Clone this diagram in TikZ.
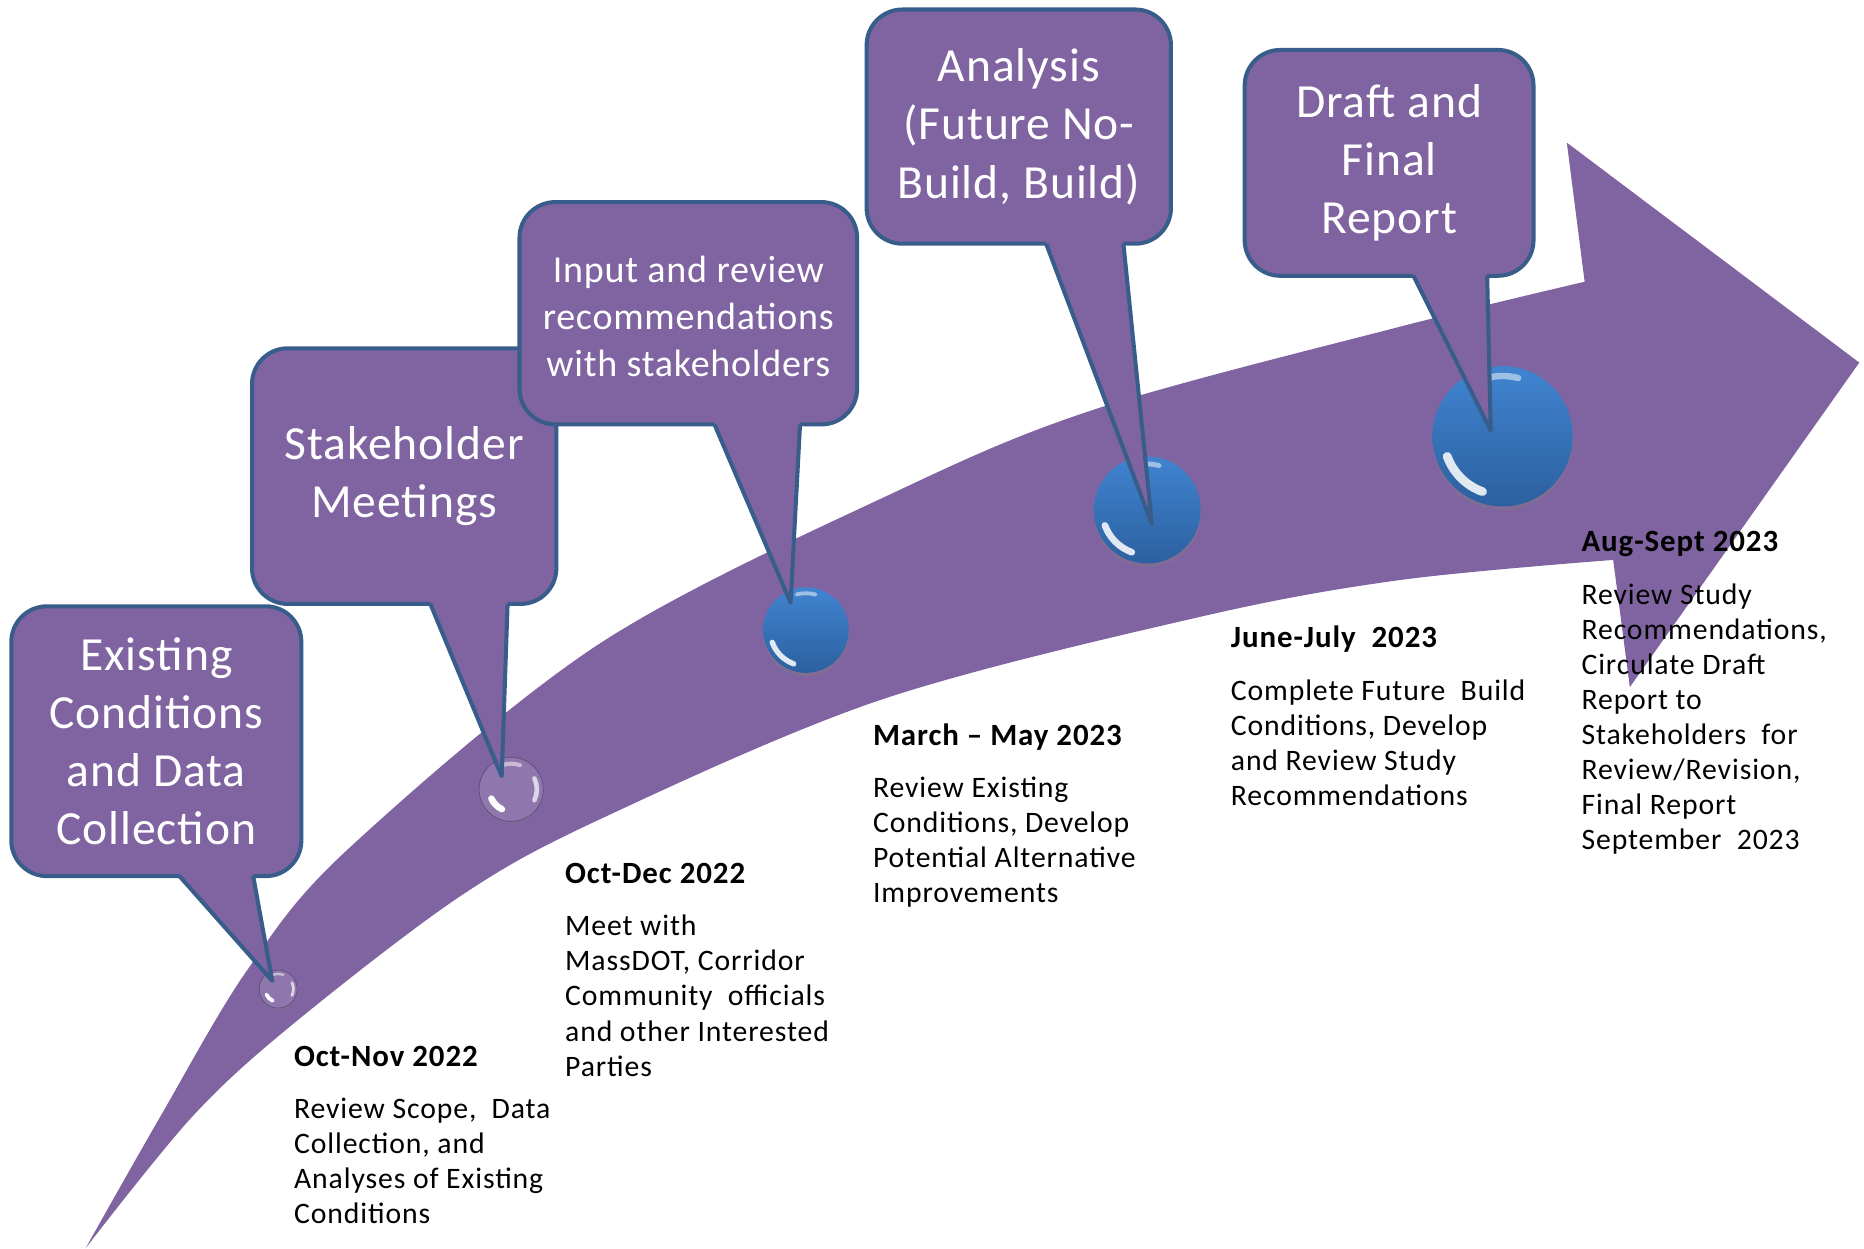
\documentclass[tikz,border=0pt]{standalone}
\usepackage{fontspec}
\setmainfont{Carlito}
\newfontfamily\calfont[LetterSpace=2]{Carlito}
\newfontfamily\txtfont[LetterSpace=3]{Carlito}
\usetikzlibrary{positioning,shadows}

\definecolor{bandpurple}{RGB}{128,100,162}
\definecolor{calline}{RGB}{56,93,138}
\definecolor{balltop}{RGB}{64,132,208}
\definecolor{ballbot}{RGB}{44,96,160}

\begin{document}
\begin{tikzpicture}[x=0.5pt,y=-0.5pt,
callout/.style={draw=calline,fill=bandpurple,line width=1.7pt,rounded corners=15pt,
  outer sep=0pt,inner sep=0pt,align=center,text=white,font=\calfont\fontsize{20}{24.5}\selectfont},
pointer/.style={fill=bandpurple},
pointerline/.style={draw=calline,line width=1.7pt,line join=round},
blueball/.style={circle,minimum size=#1,inner sep=0pt,top color=balltop,bottom color=ballbot,
  drop shadow={shadow xshift=0pt,shadow yshift=-1.5pt,opacity=.35},
  path picture={
    \draw[white,opacity=.85,line width=#1/16,line cap=round]
      ([shift={(200:#1*0.42)}]path picture bounding box.center) arc[start angle=200,end angle=250,radius=#1*0.42];
    \draw[white,opacity=.5,line width=#1/22,line cap=round]
      ([shift={(75:#1*0.43)}]path picture bounding box.center) arc[start angle=75,end angle=105,radius=#1*0.43];}},
bubble/.style={circle,minimum size=#1,inner sep=0pt,fill=bandpurple!88!white,draw=bandpurple!75!black,line width=.3pt,
  drop shadow={shadow xshift=0pt,shadow yshift=-1pt,opacity=.25},
  path picture={
    \draw[white,line width=#1/10,line cap=round]
      ([shift={(205:#1*0.34)}]path picture bounding box.center) arc[start angle=205,end angle=245,radius=#1*0.34];
    \draw[white,opacity=.7,line width=#1/14,line cap=round]
      ([shift={(-25:#1*0.4)}]path picture bounding box.center) arc[start angle=-25,end angle=25,radius=#1*0.4];
    \draw[white,opacity=.5,line width=#1/16,line cap=round]
      ([shift={(70:#1*0.4)}]path picture bounding box.center) arc[start angle=70,end angle=110,radius=#1*0.4];}},
hdr/.style={anchor=west,inner sep=0pt,font=\txtfont\bfseries\fontsize{13}{15.5}\selectfont},
body/.style={inner sep=0pt,align=left,font=\txtfont\fontsize{12.5}{14.75}\selectfont}]
\useasboundingbox (0,0) rectangle (1568,1050);

% the arrow
\fill[bandpurple] plot[smooth,tension=.55] coordinates {(72,1050) (135,939) (208,816) (292,715) (505,541)
    (757,412) (925,343) (1177,275) (1333,237)}
  -- (1318,120) -- (1564,305) -- (1371,578) -- (1357,471)
  -- plot[smooth,tension=.55] coordinates {(1357,471) (1177,488) (1009,519) (740,589) (505,689)
    (387,754) (247,861) (162,939) (72,1050)} -- cycle;

% milestones
\node[bubble=16pt] (dexist) at (234,832) {};
\node[bubble=27pt] (dstake) at (430,664) {};
\node[blueball=36pt] (dinput) at (678,530) {};
\node[blueball=45pt] (danal) at (965,429) {};
\node[blueball=59pt] (drep) at (1264,367) {};

% callouts
\node[callout,minimum width=122pt,minimum height=113.5pt] (cexist) at (131.5,623.5)
  {Existing\\Conditions\\and Data\\Collection};
\coordinate (lexist) at ([xshift=70.75pt]cexist.south west);
\coordinate (rexist) at ([xshift=101.75pt]cexist.south west);
\coordinate (pexist) at (229,825);
\fill[pointer] ([yshift=2pt]lexist) -- (lexist) -- (pexist) -- (rexist) -- ([yshift=2pt]rexist) -- cycle;
\draw[pointerline] (lexist) -- (pexist) -- (rexist);

\node[callout,minimum width=128pt,minimum height=107.5pt] (cstake) at (340,400.5)
  {Stakeholder\\Meetings};
\coordinate (lstake) at ([xshift=75pt]cstake.south west);
\coordinate (rstake) at ([xshift=107.5pt]cstake.south west);
\coordinate (pstake) at (422,653);
\fill[pointer] ([yshift=2pt]lstake) -- (lstake) -- (pstake) -- (rstake) -- ([yshift=2pt]rstake) -- cycle;
\draw[pointerline] (lstake) -- (pstake) -- (rstake);

\node[callout,minimum width=142pt,minimum height=93.5pt,font=\calfont\fontsize{16}{19.75}\selectfont] (cinput) at (579,263.5)
  {\strut Input and review\\recommendations\\with stakeholders};
\coordinate (linput) at ([xshift=82pt]cinput.south west);
\coordinate (rinput) at ([xshift=118pt]cinput.south west);
\coordinate (pinput) at (665,507);
\fill[pointer] ([yshift=2pt]linput) -- (linput) -- (pinput) -- (rinput) -- ([yshift=2pt]rinput) -- cycle;
\draw[pointerline] (linput) -- (pinput) -- (rinput);

\node[callout,minimum width=128pt,minimum height=98.5pt] (canal) at (857,106.5)
  {Analysis\\(Future No-\\Build, Build)};
\coordinate (lanal) at ([xshift=75.5pt]canal.south west);
\coordinate (ranal) at ([xshift=108pt]canal.south west);
\coordinate (panal) at (969,441);
\fill[pointer] ([yshift=2pt]lanal) -- (lanal) -- (panal) -- (ranal) -- ([yshift=2pt]ranal) -- cycle;
\draw[pointerline] (lanal) -- (panal) -- (ranal);

\node[callout,minimum width=121.5pt,minimum height=95pt] (crep) at (1168.5,137)
  {Draft and\\Final\\Report};
\coordinate (lrep) at ([xshift=71pt]crep.south west);
\coordinate (rrep) at ([xshift=102pt]crep.south west);
\coordinate (prep) at (1254,362);
\fill[pointer] ([yshift=2pt]lrep) -- (lrep) -- (prep) -- (rrep) -- ([yshift=2pt]rrep) -- cycle;
\draw[pointerline] (lrep) -- (prep) -- (rrep);

% dates and tasks
\node[hdr] (hexist) at (247,889) {Oct-Nov 2022};
\node[body,below right=13pt and 0pt of hexist.base west] (texist)
  {Review Scope,~~Data\\Collection, and\\Analyses of Existing\\Conditions};
\node[hdr] (hstake) at (475,735) {Oct-Dec 2022};
\node[body,below right=13pt and 0pt of hstake.base west] (tstake)
  {Meet with\\MassDOT, Corridor\\Community~~officials\\and other Interested\\Parties};
\node[hdr] (hinput) at (734,620) {March – May 2023};
\node[body,below right=13pt and 0pt of hinput.base west] (tinput)
  {Review Existing\\Conditions, Develop\\Potential Alternative\\Improvements};
\node[hdr] (hanal) at (1035,538) {June-July~~2023};
\node[body,below right=13pt and 0pt of hanal.base west] (tanal)
  {Complete Future~~Build\\Conditions, Develop\\and Review Study\\Recommendations};
\node[hdr] (hrep) at (1330,458) {Aug-Sept 2023};
\node[body,below right=13pt and 0pt of hrep.base west] (trep)
  {Review Study\\Recommendations,\\Circulate Draft\\Report to\\Stakeholders~~for\\Review/Revision,\\Final Report\\September~~2023};
\end{tikzpicture}
\end{document}
